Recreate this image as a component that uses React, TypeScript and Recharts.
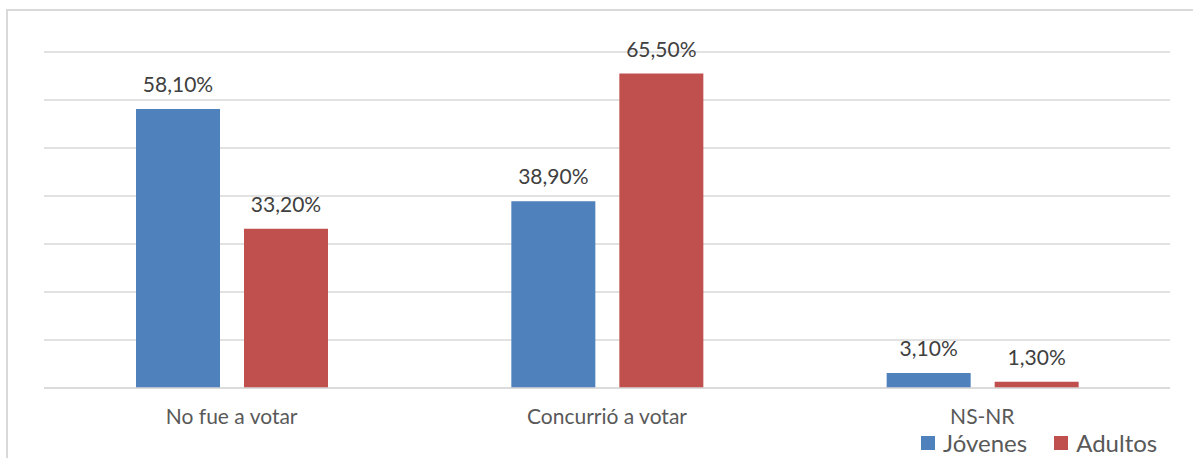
import React from 'react';
import { BarChart, Bar, XAxis, YAxis, CartesianGrid, LabelList } from 'recharts';

const categories = ['No fue a votar', 'Concurrió a votar', 'NS-NR'];
const jovenes = [58.1, 38.9, 3.1];
const adultos = [33.2, 65.5, 1.3];
const yTicks = [0, 10, 20, 30, 40, 50, 60, 70];
const seriesNames = ['Jóvenes', 'Adultos'];
const seriesColors = ['#4F81BD', '#C0504D'];

const data = categories.map((name, i) => ({ name, jovenes: jovenes[i], adultos: adultos[i] }));

const fmt = (v: number) => v.toFixed(2).replace('.', ',') + '%';
const font = 'Lato, "Open Sans", sans-serif';

export default function App() {
  return (
    <div style={{ position: 'absolute', left: 0, top: 0, width: 1193, height: 458, background: '#fff', overflow: 'hidden', fontFamily: font }}>
      <div style={{ position: 'absolute', left: 6, top: 9, width: 1300, height: 600, border: '2px solid #d9d9d9', boxSizing: 'border-box' }} />
      <BarChart
        width={1193}
        height={458}
        data={data}
        margin={{ top: 52, right: 23, left: 44, bottom: 30 }}
        barCategoryGap="24.4%"
        barGap={24}
        style={{ position: 'absolute', left: 0, top: 0 }}
      >
        <CartesianGrid vertical={false} stroke="#d9d9d9" strokeWidth={1.5} />
        <YAxis hide domain={[0, 70]} ticks={yTicks} />
        <XAxis
          dataKey="name"
          height={40}
          axisLine={{ stroke: '#d9d9d9', strokeWidth: 1.5 }}
          tickLine={false}
          tickMargin={15}
          tick={{ fill: '#595959', fontSize: 21, fontFamily: font }}
        />
        <Bar dataKey="jovenes" fill={seriesColors[0]} barSize={84} isAnimationActive={false}>
          <LabelList dataKey="jovenes" position="top" offset={17} formatter={(v: any) => fmt(Number(v))} fill="#404040" fontSize={21} fontFamily={font} />
        </Bar>
        <Bar dataKey="adultos" fill={seriesColors[1]} barSize={84} isAnimationActive={false}>
          <LabelList dataKey="adultos" position="top" offset={17} formatter={(v: any) => fmt(Number(v))} fill="#404040" fontSize={21} fontFamily={font} />
        </Bar>
      </BarChart>
      <div style={{ position: 'absolute', left: 921, top: 428, display: 'flex', alignItems: 'center', fontSize: 24, color: '#595959', whiteSpace: 'nowrap' }}>
        {seriesNames.map((n, i) => (
          <div key={n} style={{ display: 'flex', alignItems: 'center', marginRight: 27 }}>
            <span style={{ width: 14, height: 14, background: seriesColors[i], display: 'inline-block', marginRight: 8 }} />
            <span>{n}</span>
          </div>
        ))}
      </div>
    </div>
  );
}
